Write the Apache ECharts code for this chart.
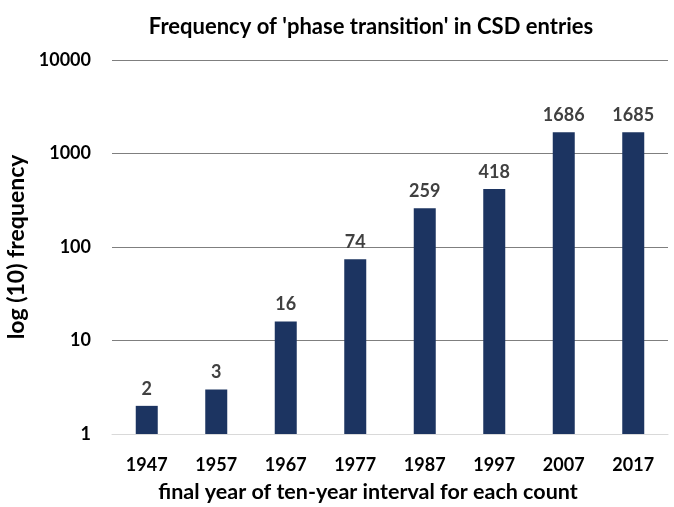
<!DOCTYPE html>
<html>
<head>
<meta charset="utf-8">
<script src="https://cdn.jsdelivr.net/npm/echarts@6/dist/echarts.min.js"></script>
<style>
  html, body { margin: 0; padding: 0; background: #fff; }
  #chart { width: 674px; height: 507px; }
</style>
</head>
<body>
<div id="chart"></div>
<script>
// 数据
var years = ['1947', '1957', '1967', '1977', '1987', '1997', '2007', '2017']
var counts = [2, 3, 16, 74, 259, 418, 1686, 1685]

var FONT = 'Lato, "Open Sans", sans-serif'

var myChart = echarts.init(document.getElementById('chart'))
var option = {
  textStyle: { fontFamily: FONT },
  title: {
    text: "Frequency of 'phase transition' in CSD entries",
    left: 366,
    top: 11,
    textAlign: 'center',
    textStyle: {
      fontFamily: FONT,
      fontSize: 22,
      fontWeight: 'bold',
      color: '#000',
    },
  },
  grid: {
    left: 112,
    right: 6,
    top: 60,
    bottom: 73,
    outerBoundsMode: 'none',
  },
  xAxis: {
    type: 'category',
    data: years,
    name: 'final year of ten-year interval for each count',
    nameLocation: 'middle',
    nameGap: 47,
    nameTextStyle: {
      fontFamily: FONT,
      fontSize: 21.5,
      fontWeight: 'bold',
      color: '#000',
      padding: [0, 44, 0, 0],
    },
    axisLine: { lineStyle: { color: '#d9d9d9', width: 1 } },
    axisTick: { show: false },
    axisLabel: {
      margin: 22,
      fontFamily: FONT,
      fontSize: 18,
      fontWeight: 'bold',
      color: '#000',
    },
  },
  yAxis: {
    type: 'log',
    logBase: 10,
    min: 1,
    max: 10000,
    name: 'log (10) frequency',
    nameLocation: 'middle',
    nameGap: 80,
    nameTextStyle: {
      fontFamily: FONT,
      fontSize: 23,
      fontWeight: 'bold',
      color: '#000',
    },
    axisLine: { show: false },
    axisTick: { show: false },
    axisLabel: {
      margin: 21,
      fontFamily: FONT,
      fontSize: 18,
      fontWeight: 'bold',
      color: '#000',
      formatter: function (v) { return String(Math.round(v)) },
    },
    splitLine: { lineStyle: { color: '#7f7f7f', width: 1 } },
  },
  series: [
    {
      type: 'bar',
      data: counts,
      barWidth: 22,
      itemStyle: { color: '#1c3461' },
      label: {
        show: true,
        position: 'top',
        distance: 8,
        fontFamily: FONT,
        fontSize: 18,
        fontWeight: 'bold',
        color: '#404040',
      },
    },
  ],
}
myChart.setOption(option)
</script>
</body>
</html>
